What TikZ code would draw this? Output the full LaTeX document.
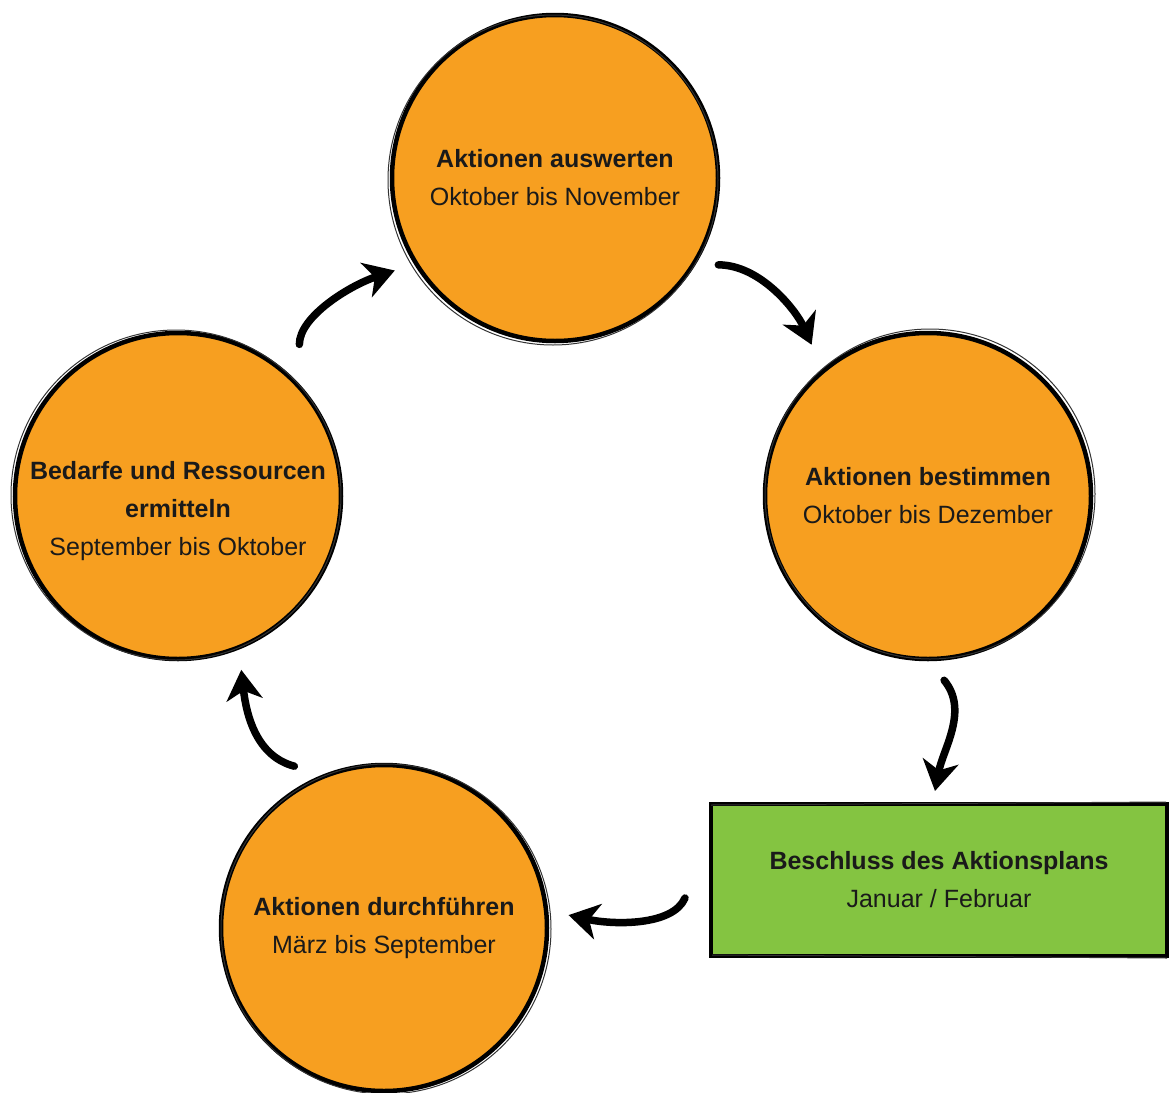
\documentclass[tikz,border=0pt]{standalone}
\usepackage{fontspec}
\setmainfont{Liberation Sans}
\usetikzlibrary{arrows.meta}
\definecolor{orng}{HTML}{F79F20}
\definecolor{grn}{HTML}{84C441}
\definecolor{txt}{HTML}{1A1A1A}
\begin{document}
\begin{tikzpicture}[x=1pt,y=-1pt,
  phase/.style={circle,draw=black,line width=4.5pt,fill=orng,minimum size=326pt,
    inner sep=0pt,outer sep=22pt,align=center,text=txt,
    font=\fontsize{25}{38}\selectfont},
  phasetext/.style={align=center,text=txt,font=\fontsize{25}{38}\selectfont},
  decision/.style={rectangle,draw=black,line width=3.5pt,fill=grn,minimum width=456pt,
    minimum height=152pt,inner sep=0pt,outer sep=13pt,align=center,text=txt,
    font=\fontsize{25}{38}\selectfont},
  sketch/.style={line width=1pt,draw=black!80},
  arr/.style={line width=7.5pt,line cap=round,
    -{Stealth[length=30pt,width=36pt,inset=9pt]}}]
\useasboundingbox (0,0) rectangle (1171,1093);

\node[phase] (top) at (555,178) {\textbf{Aktionen auswerten}\\Oktober bis November};
\node[phase] (right) at (928,496) {\textbf{Aktionen bestimmen}\\Oktober bis Dezember};
\node[phase] (left) at (178,496) {};
\node[phasetext] (lefttxt) at (178,511) {\textbf{Bedarfe und Ressourcen}\\\textbf{ermitteln}\\September bis Oktober};
\node[phase] (bottom) at (384,928) {\textbf{Aktionen durchführen}\\März bis September};
\node[decision] (green) at (939,880) {\textbf{Beschluss des Aktionsplans}\\Januar / Februar};

% sketchy second strokes
\draw[sketch] ([shift={(-2,2)}]top.center) circle[radius=165];
\draw[sketch] ([shift={(2,-2)}]right.center) circle[radius=165];
\draw[sketch] ([shift={(-2,-1)}]left.center) circle[radius=165];
\draw[sketch] ([shift={(2,1)}]bottom.center) circle[radius=165];
\draw[sketch] (711,805) -- (1166,802);
\draw[sketch] (712,955) -- (1167,958);

% cycle arrows
\draw[arr,shorten >=6pt] (top.-28) .. controls +(42,0) and +(-18,-40) .. (right.128);
\draw[arr] (right.-85) .. controls +(25,30) and +(8,-42) .. ([xshift=-4pt]green.north);
\draw[arr] ([xshift=-13pt,yshift=-18pt]green.west) .. controls +(-12,28) and +(45,10) .. (bottom.4);
\draw[arr] (bottom.119) .. controls +(-38,-10) and +(5,45) .. (left.-70);
\draw[arr,shorten <=12pt] (left.49) .. controls +(0,-40) and +(-45,15) .. (top.-150);
\end{tikzpicture}
\end{document}
